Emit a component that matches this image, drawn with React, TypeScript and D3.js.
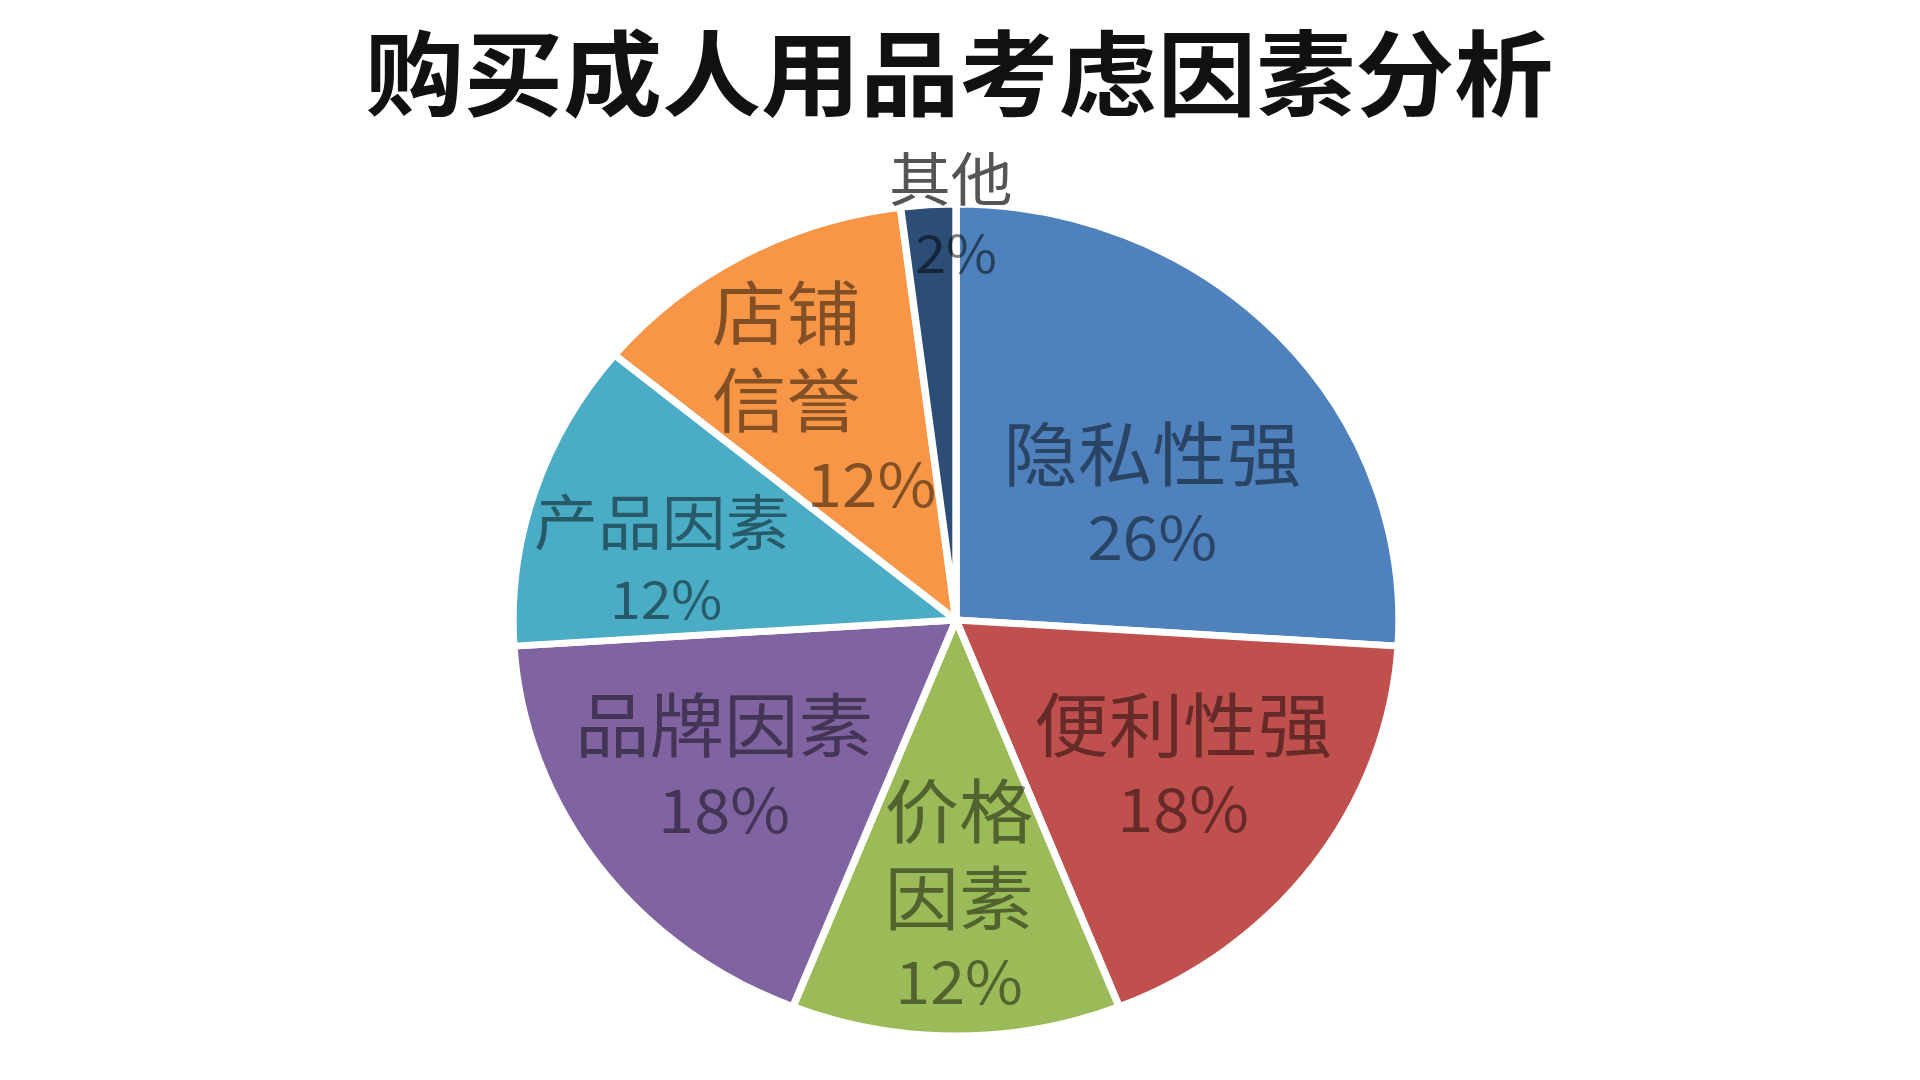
import * as d3 from 'd3';

const TITLE = '购买成人用品考虑因素分析';

// slices clockwise from 12 o'clock
const CATEGORIES = ['隐私性强', '便利性强', '价格因素', '品牌因素', '产品因素', '店铺信誉', '其他'];
const VALUES = [26, 18, 12, 18, 12, 12, 2];
const COLORS = ['#4F81BD', '#C0504D', '#9BBB59', '#8064A2', '#4BACC6', '#F79646', '#2C4D75'];
// how each label is broken into lines (the percentage goes below)
const LABEL_LINES = [['隐私性强'], ['便利性强'], ['价格', '因素'], ['品牌因素'], ['产品因素'], ['店铺', '信誉'], ['其他']];

// label placement: angle (deg clockwise from top), fraction of radius, font sizes, line height
const LABEL_LAYOUT = [
  { angle: 55.6, frac: 0.537, size: 70, pct: 60, lh: 87, lastDx: 0, fill: 'rgba(0,0,0,0.47)', head: 'rgba(0,0,0,0.47)' },
  { angle: 124.2, frac: 0.62, size: 70, pct: 61, lh: 87, lastDx: 0, fill: 'rgba(0,0,0,0.47)', head: 'rgba(0,0,0,0.47)' },
  { angle: 179.4, frac: 0.66, size: 70, pct: 59, lh: 87, lastDx: 0, fill: 'rgba(0,0,0,0.47)', head: 'rgba(0,0,0,0.47)' },
  { angle: 236.2, frac: 0.63, size: 70, pct: 61, lh: 88, lastDx: 0, fill: 'rgba(0,0,0,0.47)', head: 'rgba(0,0,0,0.47)' },
  { angle: 282.5, frac: 0.68, size: 60, pct: 52, lh: 80, lastDx: 4, fill: 'rgba(0,0,0,0.47)', head: 'rgba(0,0,0,0.47)' },
  { angle: 324.5, frac: 0.66, size: 70, pct: 60, lh: 87, lastDx: 80, fill: 'rgba(0,0,0,0.47)', head: 'rgba(0,0,0,0.47)' },
  { angle: 359.3, frac: 0.975, size: 58, pct: 52, lh: 77, lastDx: 5, fill: 'rgba(0,0,0,0.5)', head: '#555555' },
];

const W = 1920;
const H = 1080;
const SX = 1.065; // the source picture is stretched horizontally
const CX = 956 / SX;
const CY = 620;
const R = 416;

export default function App() {
  const total = d3.sum(VALUES);
  const pie = d3.pie<number>().sort(null).value(d => d);
  const arcs = pie(VALUES);
  const arc = d3.arc<d3.PieArcDatum<number>>().innerRadius(0).outerRadius(R);
  const fmt = d3.format('.0%');

  return (
    <svg
      width={W}
      height={H}
      style={{ position: 'absolute', left: 0, top: 0, background: '#fff' }}
      fontFamily="'Noto Sans CJK SC', 'Noto Sans', sans-serif"
    >
      <rect width={W} height={H} fill="#fff" />
      <g transform={`scale(${SX},1)`}>
        <text
          x={CX + 3}
          y={69}
          textAnchor="middle"
          dominantBaseline="central"
          fontSize={93}
          fontWeight={700}
          fill="#111"
        >
          {TITLE}
        </text>

        <g transform={`translate(${CX},${CY})`}>
          {arcs.map((a, i) => (
            <path key={CATEGORIES[i]} d={arc(a) ?? ''} fill={COLORS[i]} stroke="#fff" strokeWidth={7} strokeLinejoin="round" />
          ))}

          {arcs.map((a, i) => {
            const lay = LABEL_LAYOUT[i];
            const rad = (lay.angle * Math.PI) / 180;
            const lx = Math.sin(rad) * R * lay.frac;
            const ly = -Math.cos(rad) * R * lay.frac;
            const lines = [...LABEL_LINES[i], fmt(VALUES[i] / total)];
            const y0 = ly - ((lines.length - 1) * lay.lh) / 2;
            return (
              <g key={`lab-${i}`}>
                {lines.map((t, j) => {
                  const last = j === lines.length - 1;
                  return (
                    <text
                      key={j}
                      x={lx + (last ? lay.lastDx : 0)}
                      y={y0 + j * lay.lh - (last ? 3 : 0)}
                      textAnchor="middle"
                      dominantBaseline="central"
                      fontSize={last ? lay.pct : lay.size}
                      fill={last ? lay.fill : lay.head}
                    >
                      {t}
                    </text>
                  );
                })}
              </g>
            );
          })}
        </g>
      </g>
    </svg>
  );
}
